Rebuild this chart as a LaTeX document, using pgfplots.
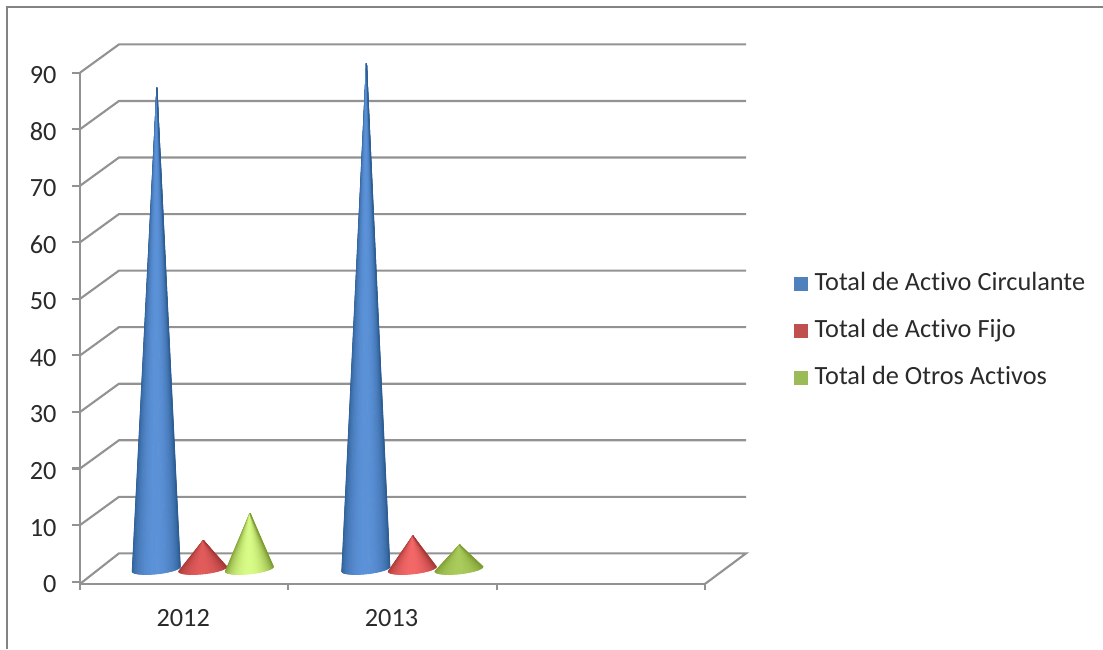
\documentclass[border=0pt]{standalone}
\usepackage{fontspec}
\setmainfont[Ligatures=NoCommon]{Carlito}
\usepackage{pgfplots}
\pgfplotsset{compat=1.18}
\definecolor{axisgray}{HTML}{929292}
\definecolor{labeltext}{HTML}{2A2A2A}

% One cone as narrow triangular facets from the apex to the front half of the
% base ellipse. Arguments: x position, value, edge colour r,g,b, centre colour r,g,b.
\newcommand{\conebar}[8]{%
  \pgfplotsforeachungrouped \i in {0,...,29}{%
    \pgfmathsetmacro\angA{180+6*\i}%
    \pgfmathsetmacro\angB{\angA+6}%
    \pgfmathsetmacro\xa{#1+0.1152*cos(\angA)}%
    \pgfmathsetmacro\xb{#1+0.1152*cos(\angB)}%
    \pgfmathsetmacro\ya{2.25+0.88*sin(\angA)+0.42*cos(\angA)}%
    \pgfmathsetmacro\yb{2.25+0.88*sin(\angB)+0.42*cos(\angB)}%
    \pgfmathsetmacro\xt{#1+0.003}%
    \pgfmathsetmacro\yt{#2+2.5}%
    \pgfmathsetmacro\lightf{abs(sin(\angA+3))^1.3}%
    \pgfmathtruncatemacro\shR{#3+(#6-#3)*\lightf}%
    \pgfmathtruncatemacro\shG{#4+(#7-#4)*\lightf}%
    \pgfmathtruncatemacro\shB{#5+(#8-#5)*\lightf}%
    \edef\temp{\noexpand\addplot[forget plot,line width=0.9pt,line join=round,
      fill={rgb,255:red,\shR;green,\shG;blue,\shB},
      draw={rgb,255:red,\shR;green,\shG;blue,\shB}]
      coordinates {(\xt,\yt) (\xa,\ya) (\xb,\yb) (\xt,\yt)};}%
    \temp
  }%
}

\begin{document}
\begin{tikzpicture}[x=1pt,y=1pt]
  \useasboundingbox (-80,-65.1) rectangle (1023,583.9);
  % outer frame of the chart area
  \draw[color=axisgray!90!black,line width=1.8pt] (-72.7,-65.1) -- (-72.7,576.7) -- (1023,576.7);
  \begin{axis}[
    at={(0pt,0pt)},anchor=south west,
    scale only axis,width=625pt,height=511.2pt,
    xmin=0,xmax=3,ymin=-0.4,ymax=90,
    clip=false,
    axis lines=left,
    axis line style={-,draw=axisgray,line width=2.1pt},
    xtick={0.5,1.5},xticklabels={2012,2013},
    minor xtick={0,1,2,3},
    ytick={0,10,...,90},
    tick align=outside,
    major tick length=8pt,minor tick length=6pt,
    major x tick style={draw=none},
    minor x tick style={draw=axisgray,line width=2.1pt},
    y tick style={draw=axisgray,line width=2.1pt},
    /pgf/number format/assume math mode=true,
    tick label style={font=\fontsize{26.3}{30}\selectfont,text=labeltext},
    yticklabel style={xshift=-12pt,yshift=-2.5pt},
    xticklabel style={xshift=-1pt,yshift=-13.5pt},
    legend cell align=left,
    legend style={
      at={(axis cs:3.427,54.7)},anchor=north west,
      draw=none,fill=none,inner sep=0pt,outer sep=0pt,
      font=\fontsize{26.3}{30}\selectfont,text=labeltext,
      nodes={inner sep=0pt,outer sep=0pt,text height=18pt,text depth=6pt},
      /tikz/row sep=23pt,
      /tikz/column 1/.style={column sep=6.7pt},
    },
    legend image code/.code={\fill[#1,draw=none] (0pt,-7pt) rectangle (14pt,7pt);},
  ]
    % oblique grid lines on the side and back walls
    \pgfplotsinvokeforeach{10,20,...,90}{%
      \addplot[forget plot,draw=axisgray,line width=2.1pt] coordinates {(0,#1) (0.187,#1+5) (3.197,#1+5)};
    }
    % floor
    \addplot[forget plot,draw=axisgray,line width=2.1pt] coordinates {(0,-0.4) (0.187,5) (3.197,5) (3,-0.4)};

    % legend swatches
    \addlegendimage{fill={rgb,255:red,79;green,129;blue,189}}
    \addlegendentry{Total de Activo Circulante}
    \addlegendimage{fill={rgb,255:red,192;green,80;blue,77}}
    \addlegendentry{Total de Activo Fijo}
    \addlegendimage{fill={rgb,255:red,155;green,187;blue,89}}
    \addlegendentry{Total de Otros Activos}

    % 2012
    \conebar{0.366}{84.8}{44}{92}{146}{92}{146}{216}
    \conebar{0.589}{4.8}{165}{56}{54}{226}{92}{92}
    \conebar{0.813}{9.6}{125}{155}{50}{216}{252}{135}
    % 2013
    \conebar{1.372}{89.2}{44}{92}{146}{92}{146}{216}
    \conebar{1.595}{5.6}{165}{56}{54}{244}{104}{104}
    \conebar{1.819}{4.0}{125}{155}{50}{170}{204}{92}
  \end{axis}
\end{tikzpicture}
\end{document}
